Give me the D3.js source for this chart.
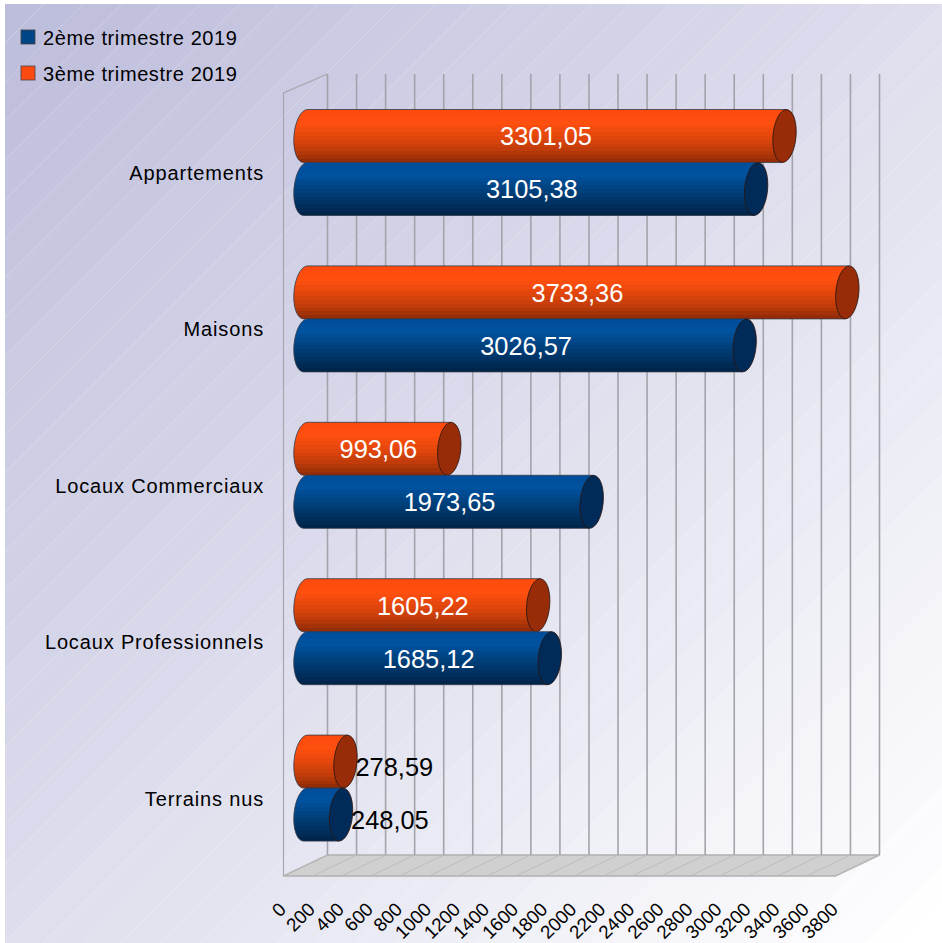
<!DOCTYPE html>
<html>
<head>
<meta charset="utf-8">
<script src="https://cdn.jsdelivr.net/npm/d3@7"></script>
<style>
  html, body { margin: 0; padding: 0; background: #fff; }
  svg { display: block; }
  text { font-family: "Liberation Sans", Arial, sans-serif; }
</style>
</head>
<body>
<div id="chart"></div>
<script>
var categories = ["Appartements", "Maisons", "Locaux Commerciaux", "Locaux Professionnels", "Terrains nus"];
var seriesNames = ["3ème trimestre 2019", "2ème trimestre 2019"];
var legendNames = ["2ème trimestre 2019", "3ème trimestre 2019"];
var values_t3 = [3301.05, 3733.36, 993.06, 1605.22, 278.59];
var values_t2 = [3105.38, 3026.57, 1973.65, 1685.12, 248.05];
var tickValues = [0, 200, 400, 600, 800, 1000, 1200, 1400, 1600, 1800, 2000, 2200, 2400, 2600, 2800, 3000, 3200, 3400, 3600, 3800];

var width = 942, height = 943;
var depth_x = 44, depth_y = 21;

var svg = d3.select("#chart").append("svg")
    .attr("width", width)
    .attr("height", height);

var defs = svg.append("defs");

// background: stepped diagonal gradient, the seams between steps show as thin lines
var bg_left = 5, bg_top = 4;
var bg_steps = 48;
var bg_color = d3.interpolateRgb("#bdbddc", "#ffffff");
var bg_size = (width - bg_left) + (height - bg_top);
var clip = defs.append("clipPath").attr("id", "bg_clip");
clip.append("rect").attr("x", bg_left).attr("y", bg_top)
    .attr("width", width - bg_left).attr("height", height - bg_top);
svg.append("g").attr("clip-path", "url(#bg_clip)")
    .selectAll("polygon")
    .data(d3.range(bg_steps))
    .join("polygon")
    .attr("points", function (i) {
        var a = bg_size * i / bg_steps, b = bg_size * (i + 1) / bg_steps;
        return [[bg_left + a, bg_top], [bg_left + b, bg_top], [bg_left, bg_top + b], [bg_left, bg_top + a]].join(" ");
    })
    .attr("fill", function (i) { return bg_color(i / (bg_steps - 1)); });

// scales
var x_scale = d3.scaleLinear().domain([0, 3800]).range([283.5, 835.5]);
var y_scale = d3.scaleBand().domain(categories).range([84.3, 866.3]);
var y_inner = d3.scaleBand().domain(seriesNames).range([0, 106]);

var wall_top = 74, wall_bottom = 855;

// floor
svg.append("polygon")
    .attr("points", [
        [x_scale(0), wall_bottom + depth_y],
        [x_scale(3800), wall_bottom + depth_y],
        [x_scale(3800) + depth_x, wall_bottom],
        [x_scale(0) + depth_x, wall_bottom]
    ].join(" "))
    .attr("fill", "#d0d0d0")
    .attr("stroke", "#b0b0b0")
    .attr("stroke-width", 1.5);

svg.append("g").selectAll("line")
    .data(tickValues)
    .join("line")
    .attr("x1", function (d) { return x_scale(d); })
    .attr("x2", function (d) { return x_scale(d) + depth_x; })
    .attr("y1", wall_bottom + depth_y)
    .attr("y2", wall_bottom)
    .attr("stroke", "#bcbcbc")
    .attr("stroke-width", 1);

// left wall
svg.append("polyline")
    .attr("points", [
        [x_scale(0), wall_bottom + depth_y],
        [x_scale(0), wall_top + depth_y - 2],
        [x_scale(0) + depth_x, wall_top]
    ].join(" "))
    .attr("fill", "none")
    .attr("stroke", "#a6a6ae")
    .attr("stroke-width", 1.2);

// grid lines on the back wall
svg.append("g").selectAll("line")
    .data(tickValues)
    .join("line")
    .attr("x1", function (d) { return x_scale(d) + depth_x; })
    .attr("x2", function (d) { return x_scale(d) + depth_x; })
    .attr("y1", wall_top)
    .attr("y2", wall_bottom)
    .attr("stroke", "#a3a3ab")
    .attr("stroke-width", 1.6);

// cylinder shading, hard colour bands like the original export
function addShade(id, stops) {
    var n = 14;
    var color = d3.scaleLinear()
        .domain(stops.map(function (s) { return s[0]; }))
        .range(stops.map(function (s) { return s[1]; }));
    var grad = defs.append("linearGradient").attr("id", id)
        .attr("x1", 0).attr("x2", 0).attr("y1", 0).attr("y2", 1);
    d3.range(n).forEach(function (i) {
        var c = color((i + 0.5) / n);
        grad.append("stop").attr("offset", i / n).attr("stop-color", c);
        grad.append("stop").attr("offset", (i + 1) / n).attr("stop-color", c);
    });
}
addShade("shade_t3", [[0, "#fb4a0c"], [0.25, "#ff5010"], [0.5, "#e5470c"], [0.75, "#c13c0a"], [1, "#8c2a06"]]);
addShade("shade_t2", [[0, "#004d9c"], [0.25, "#00529f"], [0.5, "#00427f"], [0.75, "#003263"], [1, "#002347"]]);

var cap_colors = { "3ème trimestre 2019": "#982c08", "2ème trimestre 2019": "#002b59" };
var body_colors = { "3ème trimestre 2019": "url(#shade_t3)", "2ème trimestre 2019": "url(#shade_t2)" };
var series_values = { "3ème trimestre 2019": values_t3, "2ème trimestre 2019": values_t2 };
var swatch_colors = { "3ème trimestre 2019": "#ff4a12", "2ème trimestre 2019": "#004586" };

var bar_rx = 11.5, tilt = 5.2, lean = 2;

var rows = [];
categories.forEach(function (cat, i) {
    seriesNames.forEach(function (name) {
        rows.push({ cat: cat, name: name, value: series_values[name][i] });
    });
});

var bars = svg.append("g").selectAll("g")
    .data(rows)
    .join("g");

bars.each(function (d) {
    var g = d3.select(this);
    var inner_top = (y_scale.bandwidth() - 106) / 2;
    var top = y_scale(d.cat) + inner_top + y_inner(d.name);
    var bottom = top + y_inner.bandwidth();
    var cy = (top + bottom) / 2;
    var ry = (bottom - top) / 2;
    var x0 = x_scale(0) + depth_x / 2;
    var x1 = x_scale(d.value) + depth_x / 2 - 0.5;

    g.append("path")
        .attr("d", "M" + (x0 + lean) + "," + top +
            " L" + (x1 + lean) + "," + top +
            " L" + (x1 - lean) + "," + bottom +
            " L" + (x0 - lean) + "," + bottom +
            " A" + bar_rx + " " + ry + " " + tilt + " 0 1 " + (x0 + lean) + "," + top + " Z")
        .attr("fill", body_colors[d.name])
        .attr("stroke", "#333a4a")
        .attr("stroke-width", 0.8);

    g.append("ellipse")
        .attr("transform", "translate(" + x1 + "," + cy + ") rotate(" + tilt + ")")
        .attr("rx", bar_rx)
        .attr("ry", ry)
        .attr("fill", cap_colors[d.name])
        .attr("stroke", "#2a1510")
        .attr("stroke-width", 0.8);

    var outside = d.value < 500;
    var label = g.append("text")
        .attr("dy", "0.36em")
        .attr("font-size", 25.4)
        .text(d3.format(".2f")(d.value).replace(".", ","));
    if (outside) {
        label.attr("x", x1 + bar_rx - 1.5).attr("y", cy + 5.5).attr("text-anchor", "start").attr("fill", "#000");
    } else {
        label.attr("x", (x0 + x1) / 2 + 1).attr("y", cy + 0.3).attr("text-anchor", "middle").attr("fill", "#fff");
    }
});

// category axis
var y_axis = svg.append("g")
    .attr("transform", "translate(264,11)")
    .call(d3.axisLeft(y_scale).tickSize(0).tickPadding(0));
y_axis.select(".domain").remove();
y_axis.selectAll("text")
    .attr("font-size", 20)
    .attr("letter-spacing", 0.85)
    .attr("font-family", "Liberation Sans")
    .attr("fill", "#000");

// value axis, labels turned 45 degrees
var x_axis = svg.append("g")
    .attr("transform", "translate(-6.5,901)")
    .call(d3.axisBottom(x_scale).tickValues(tickValues).tickSize(0).tickFormat(d3.format("d")));
x_axis.select(".domain").remove();
x_axis.selectAll("text")
    .attr("font-size", 18.8)
    .attr("font-family", "Liberation Sans")
    .attr("fill", "#000")
    .attr("text-anchor", "end")
    .attr("x", 0)
    .attr("y", 0)
    .attr("dy", "0.72em")
    .attr("transform", "rotate(-45)");

// legend
var legend = svg.append("g").selectAll("g")
    .data(legendNames)
    .join("g")
    .attr("transform", function (d, i) { return "translate(21," + (30 + i * 36) + ")"; });
legend.append("rect")
    .attr("width", 14)
    .attr("height", 14)
    .attr("fill", function (d) { return swatch_colors[d]; })
    .attr("stroke", "#444")
    .attr("stroke-width", 0.8);
legend.append("text")
    .attr("x", 22)
    .attr("y", 15)
    .attr("font-size", 20)
    .attr("letter-spacing", 0.58)
    .attr("fill", "#000")
    .text(function (d) { return d; });
</script>
</body>
</html>
